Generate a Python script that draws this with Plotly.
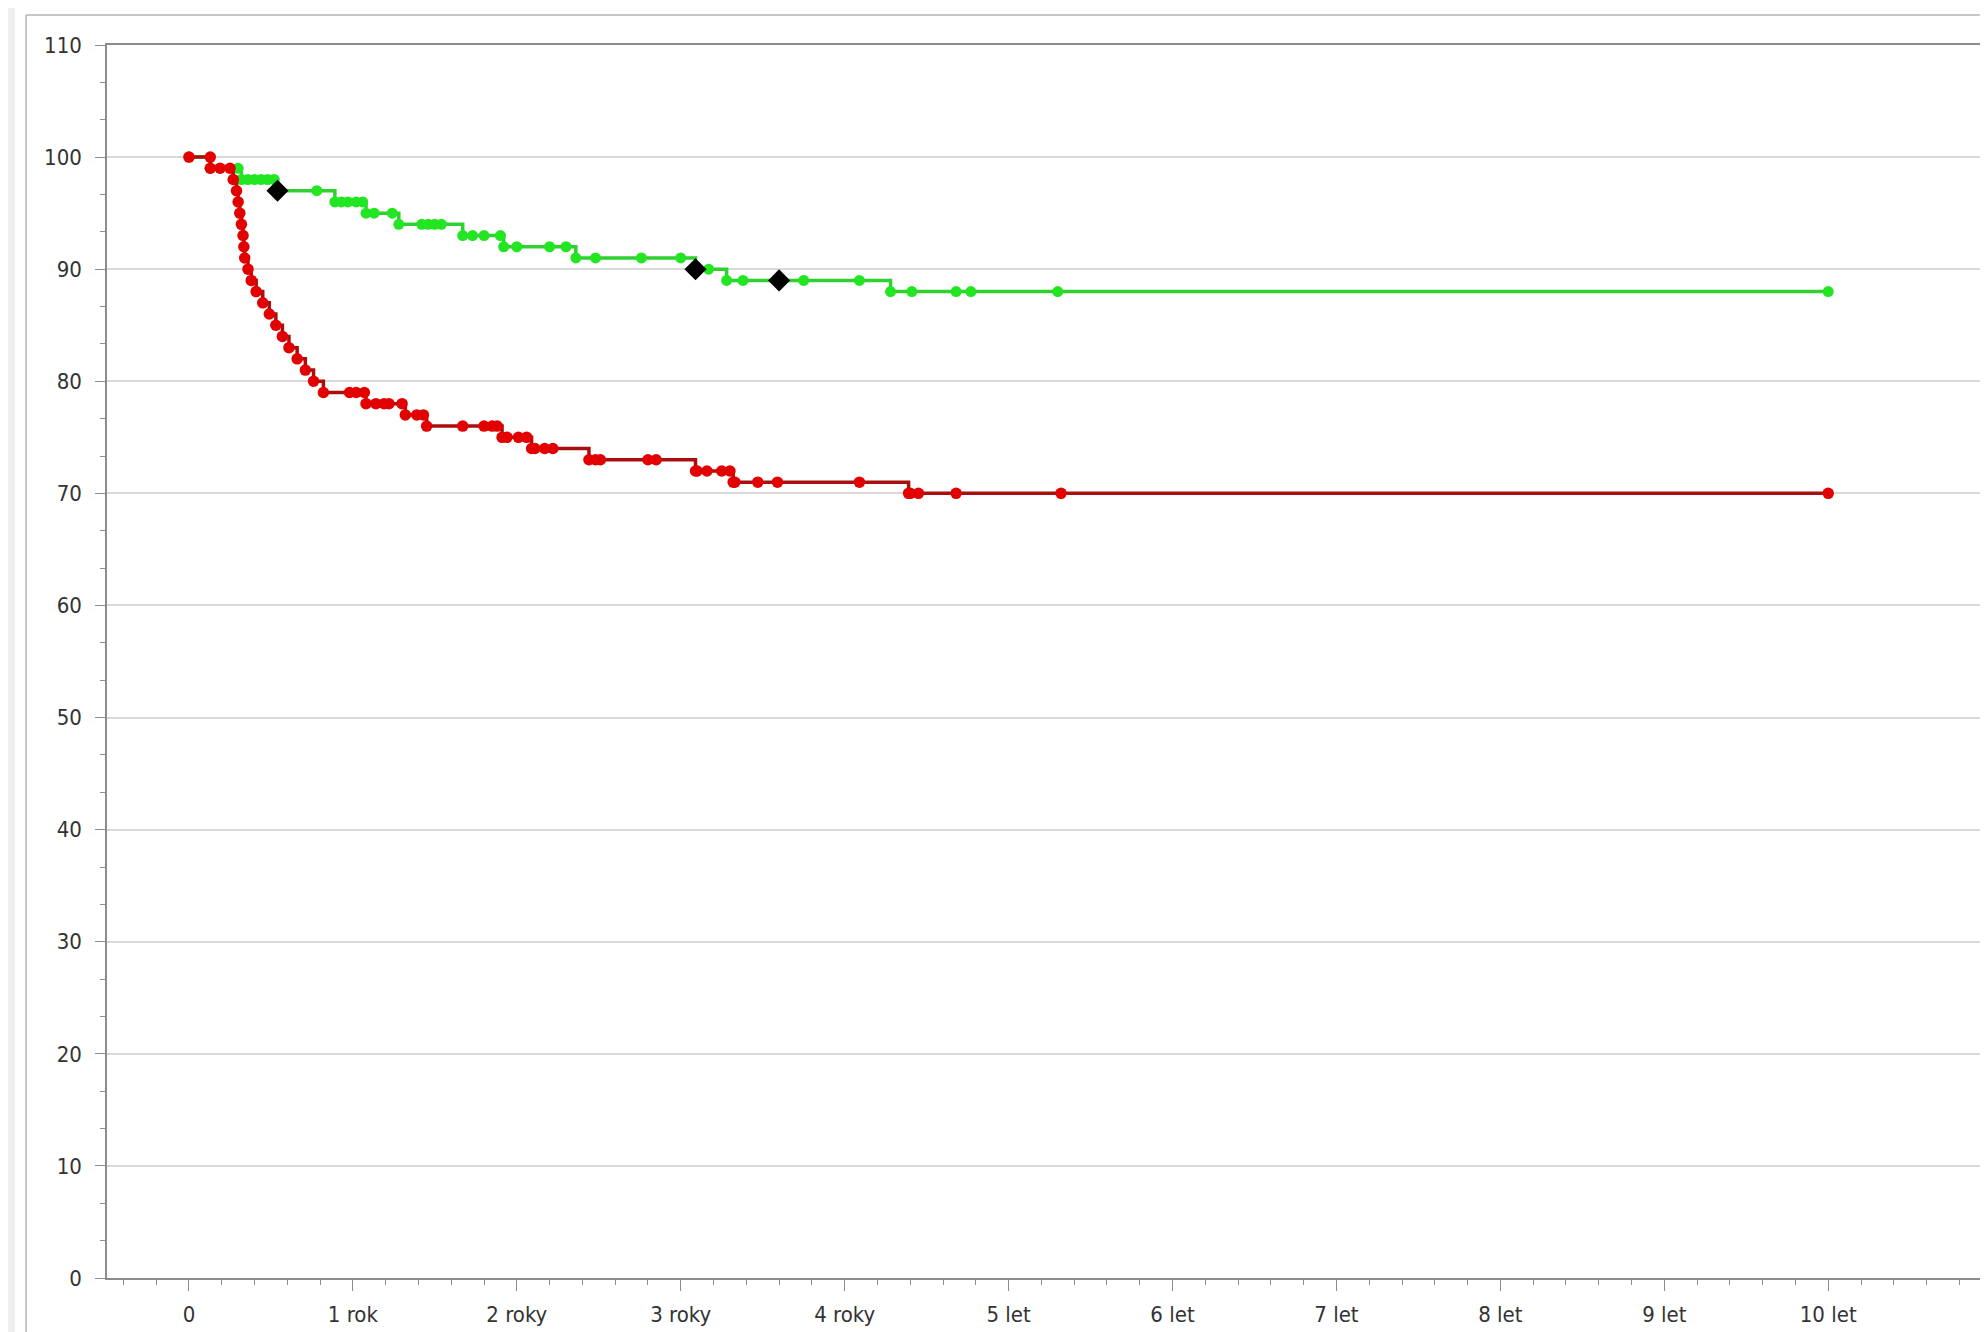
import plotly.graph_objects as go

# ---- data (years, survival %) ----
red_t = [0, 0.13, 0.13, 0.19, 0.25, 0.27, 0.29, 0.30, 0.31, 0.32, 0.33, 0.335, 0.34,
         0.36, 0.38, 0.41, 0.45, 0.49, 0.53, 0.57, 0.61, 0.66, 0.71, 0.76, 0.82,
         0.98, 1.02, 1.07, 1.08, 1.14, 1.19, 1.22, 1.30, 1.32, 1.39, 1.43, 1.45,
         1.67, 1.80, 1.85, 1.88, 1.91, 1.94, 2.01, 2.06, 2.09, 2.11, 2.17, 2.22,
         2.44, 2.48, 2.51, 2.80, 2.85, 3.09, 3.10, 3.16, 3.25, 3.30, 3.32, 3.33,
         3.47, 3.59, 4.09, 4.39, 4.40, 4.45, 4.68, 5.32, 10.0]
red_s = [100, 100, 99, 99, 99, 98, 97, 96, 95, 94, 93, 92, 91,
         90, 89, 88, 87, 86, 85, 84, 83, 82, 81, 80, 79,
         79, 79, 79, 78, 78, 78, 78, 78, 77, 77, 77, 76,
         76, 76, 76, 76, 75, 75, 75, 75, 74, 74, 74, 74,
         73, 73, 73, 73, 73, 72, 72, 72, 72, 72, 71, 71,
         71, 71, 71, 70, 70, 70, 70, 70, 70]

green_t = [0, 0.13, 0.30, 0.32, 0.36, 0.40, 0.44, 0.48, 0.52, 0.54, 0.78, 0.89, 0.93,
           0.97, 1.02, 1.06, 1.08, 1.13, 1.24, 1.28, 1.42, 1.46, 1.50, 1.54, 1.67,
           1.73, 1.80, 1.90, 1.92, 2.00, 2.20, 2.30, 2.36, 2.48, 2.76, 3.00, 3.09,
           3.17, 3.28, 3.38, 3.75, 4.09, 4.28, 4.41, 4.68, 4.77, 5.30, 10.0]
green_s = [100, 99, 99, 98, 98, 98, 98, 98, 98, 97, 97, 96, 96,
           96, 96, 96, 95, 95, 95, 94, 94, 94, 94, 94, 93,
           93, 93, 93, 92, 92, 92, 92, 91, 91, 91, 91, 90,
           90, 89, 89, 89, 89, 88, 88, 88, 88, 88, 88]

diamond_t = [0.54, 3.09, 3.60]
diamond_s = [97, 90, 89]

x_tickvals = [0, 1, 2, 3, 4, 5, 6, 7, 8, 9, 10]
x_ticktext = ["0", "1 rok", "2 roky", "3 roky", "4 roky", "5 let", "6 let",
              "7 let", "8 let", "9 let", "10 let"]
y_tickvals = [0, 10, 20, 30, 40, 50, 60, 70, 80, 90, 100, 110]

FONT = "DejaVu Sans Condensed, DejaVu Sans, sans-serif"
AX = "#8c8c8c"

fig = go.Figure()
fig.add_trace(go.Scatter(
    x=green_t, y=green_s, mode="lines+markers", line_shape="hv",
    line=dict(color="#2fd02f", width=3.5),
    marker=dict(color="#22e622", size=11, line=dict(width=0)),
    hoverinfo="skip"))
fig.add_trace(go.Scatter(
    x=red_t, y=red_s, mode="lines+markers", line_shape="hv",
    line=dict(color="#a81010", width=3.5),
    marker=dict(color="#e30000", size=11.5, line=dict(width=0)),
    hoverinfo="skip"))
fig.add_trace(go.Scatter(
    x=diamond_t, y=diamond_s, mode="markers",
    marker=dict(color="black", symbol="diamond", size=17, line=dict(width=0)),
    hoverinfo="skip"))

# page is offset by the 8px body margin of the html page
OFF = 8
W, H = 1988 - OFF, 1332 - OFF
L, R, T, B = 107 - OFF, 4, 45 - OFF, 54
pw, ph = W - L - R, H - T - B

def px_x(p):
    return (p - OFF - L) / pw

def px_y(p):
    return (H - B - (p - OFF)) / ph

shapes = [
    dict(type="rect", xref="paper", yref="paper", x0=px_x(OFF), x1=px_x(15),
         y0=px_y(1332), y1=px_y(OFF), fillcolor="#efefef", line=dict(width=0), layer="below"),
    dict(type="line", xref="paper", yref="paper", x0=px_x(26), x1=px_x(1988),
         y0=px_y(15), y1=px_y(15), line=dict(color="#b4b4b4", width=1.5)),
    dict(type="line", xref="paper", yref="paper", x0=px_x(26), x1=px_x(26),
         y0=px_y(15), y1=px_y(1332), line=dict(color="#b4b4b4", width=1.5)),
]

fig.update_layout(
    width=W, height=H,
    margin=dict(l=L, r=R, t=T, b=B, pad=0),
    paper_bgcolor="white", plot_bgcolor="white",
    showlegend=False,
    font=dict(family=FONT, size=22, color="#333333"),
    shapes=shapes,
    xaxis=dict(
        range=[-0.5, -0.5 + pw / 164.1],
        tickmode="array", tickvals=x_tickvals, ticktext=x_ticktext,
        showgrid=False, zeroline=False,
        showline=True, linecolor=AX, linewidth=1.5, mirror=True,
        ticks="outside", ticklen=11, tickcolor=AX, tickwidth=1,
        ticklabelstandoff=5,
        minor=dict(dtick=0.2, tick0=0, ticks="outside", ticklen=5,
                   tickcolor=AX, tickwidth=1, showgrid=False),
    ),
    yaxis=dict(
        range=[0, 110],
        tickmode="array", tickvals=y_tickvals,
        showgrid=True, gridcolor="#d9d9d9", gridwidth=1.5,
        zeroline=False,
        showline=True, linecolor=AX, linewidth=1.5, mirror=True,
        ticks="outside", ticklen=10, tickcolor=AX, tickwidth=1,
        ticklabelstandoff=9,
        minor=dict(dtick=10 / 3, tick0=0, ticks="outside", ticklen=5,
                   tickcolor=AX, tickwidth=1, showgrid=False),
    ),
)

fig.write_html("out.html")
